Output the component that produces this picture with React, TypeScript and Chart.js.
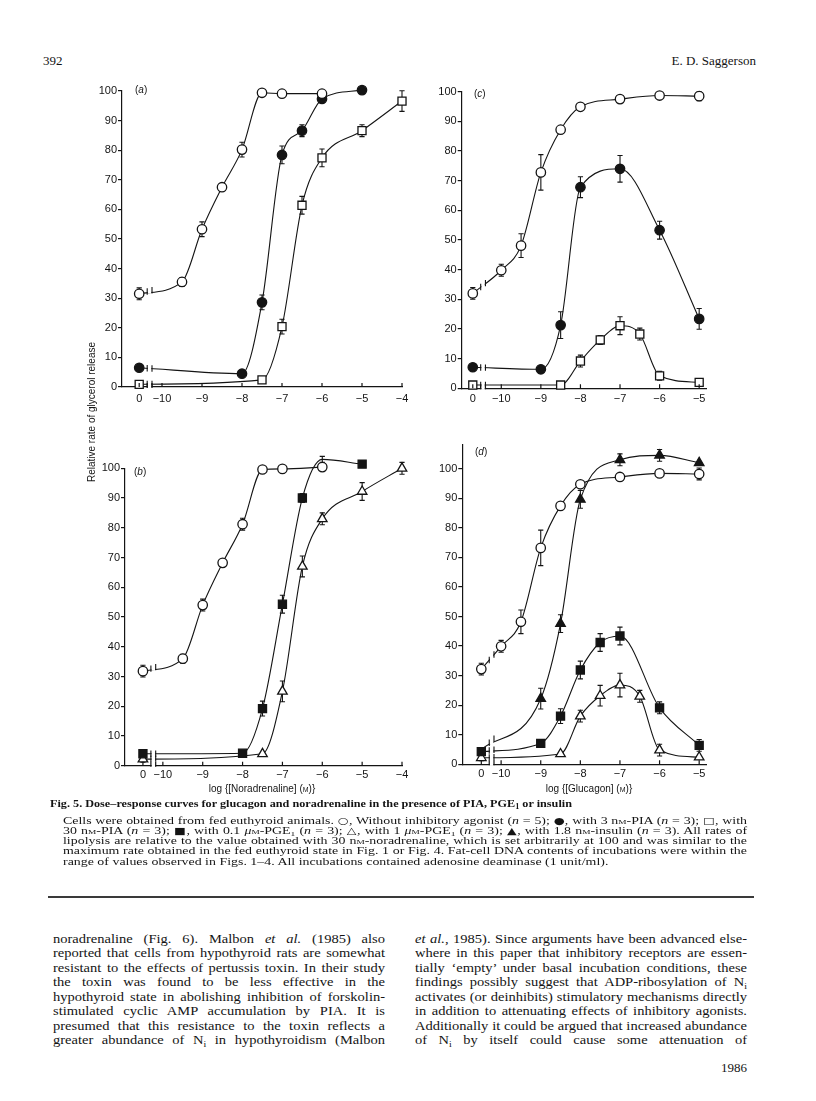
import React, { useEffect, useRef } from 'react';
import { Chart, registerables } from 'chart.js';

Chart.register(...registerables);

const INK = '#141414';
const SANS = '"Liberation Sans", Arial, Helvetica, sans-serif';
const SERIF = '"Liberation Serif", "Times New Roman", Times, serif';
const SYMF = '"DejaVu Sans", sans-serif';

// x = 0 marks the "no agonist" point, drawn at the "0" tick left of the axis break
const NONE = 0;
const Y_TICKS = [0, 10, 20, 30, 40, 50, 60, 70, 80, 90, 100];
const NOR_TICKS = [NONE, -10, -9, -8, -7, -6, -5, -4];
const GLU_TICKS = [NONE, -10, -9, -8, -7, -6, -5];

// ---- (a) noradrenaline + PIA ----
const A_OPEN_X = [0, -9.5, -9, -8.5, -8, -7.5, -7, -6];
const A_OPEN_Y = [31.5, 35.5, 53.3, 67.5, 80.2, 99.4, 99.1, 99.1];
const A_OPEN_E = [2, 1.5, 2.5, 0, 2.5, 0, 0, 0];
const A_PIA3_X = [0, -8, -7.5, -7, -6.5, -6, -5];
const A_PIA3_Y = [6.5, 4.5, 28.6, 78.4, 86.6, 97.3, 100.3];
const A_PIA3_E = [0, 0, 2.5, 3, 2, 0, 0];
const A_PIA30_X = [0, -7.5, -7, -6.5, -6, -5, -4];
const A_PIA30_Y = [0.9, 2.4, 20.4, 61.4, 77.4, 86.6, 96.6];
const A_PIA30_E = [0, 0, 2.5, 3, 3, 2, 3.5];

// ---- (b) noradrenaline + PGE1 ----
const B_OPEN_X = [0, -9.5, -9, -8.5, -8, -7.5, -7, -6];
const B_OPEN_Y = [31.8, 36.0, 54.0, 68.2, 81.2, 99.6, 99.8, 100.4];
const B_OPEN_E = [2, 1.5, 2, 0, 2, 0, 0, 0];
const B_PGE01_X = [0, -8, -7.5, -7, -6.5, -6, -5];
const B_PGE01_Y = [4.0, 4.2, 19.2, 54.3, 90.0, 103.0, 101.4];
const B_PGE01_E = [0, 0, 2.5, 3, 1.5, 1, 1];
const B_PGE1_X = [0, -7.5, -7, -6.5, -6, -5, -4];
const B_PGE1_Y = [2.2, 4.0, 25.0, 67.0, 83.0, 92.2, 100.0];
const B_PGE1_E = [1, 0, 3.5, 3.5, 2, 3, 2];

// ---- (c) glucagon + PIA ----
const C_OPEN_X = [0, -10, -9.5, -9, -8.5, -8, -7, -6, -5];
const C_OPEN_Y = [32.0, 39.8, 48.1, 72.8, 87.2, 94.9, 97.5, 98.7, 98.5];
const C_OPEN_E = [2, 2, 4, 6, 0, 0, 0, 0, 1.5];
const C_PIA3_X = [0, -9, -8.5, -8, -7, -6, -5];
const C_PIA3_Y = [7.1, 6.4, 21.3, 67.8, 74.0, 53.3, 23.4];
const C_PIA3_E = [0, 0, 4.5, 3.5, 4.5, 3, 3.5];
const C_PIA30_X = [0, -8.5, -8, -7.5, -7, -6.5, -6, -5];
const C_PIA30_Y = [1.1, 1.1, 9.2, 16.3, 21.1, 18.3, 4.2, 2.0];
const C_PIA30_E = [0, 0, 2, 1.5, 3, 2, 1.5, 0];

// ---- (d) glucagon + PGE1 / insulin ----
const D_OPEN_X = [0, -10, -9.5, -9, -8.5, -8, -7, -6, -5];
const D_OPEN_Y = [32.2, 39.9, 48.2, 73.2, 87.4, 94.7, 97.2, 98.4, 98.2];
const D_OPEN_E = [2, 2, 4, 6, 0, 0, 0, 0, 2];
const D_INS_X = [0, -9, -8.5, -8, -7, -6, -5];
const D_INS_Y = [5.0, 22.2, 47.6, 89.6, 103.0, 104.5, 102.0];
const D_INS_E = [0, 3.5, 3, 3, 2, 2, 0];
const D_PGE01_X = [0, -9, -8.5, -8, -7.5, -7, -6, -5];
const D_PGE01_Y = [4.3, 7.1, 16.3, 31.9, 41.2, 43.4, 19.1, 6.4];
const D_PGE01_E = [0, 0, 2.5, 3, 3, 3, 2, 2];
const D_PGE1_X = [0, -8.5, -8, -7.5, -7, -6.5, -6, -5];
const D_PGE1_Y = [2.2, 3.5, 16.3, 23.2, 26.8, 23.0, 4.8, 2.4];
const D_PGE1_E = [1, 0, 2, 3.5, 4, 2, 2, 0];

const SERIES_A = [
  { xs: A_OPEN_X, ys: A_OPEN_Y, es: A_OPEN_E, mark: 'oc' },
  { xs: A_PIA3_X, ys: A_PIA3_Y, es: A_PIA3_E, mark: 'fc' },
  { xs: A_PIA30_X, ys: A_PIA30_Y, es: A_PIA30_E, mark: 'os' },
];
const SERIES_B = [
  { xs: B_OPEN_X, ys: B_OPEN_Y, es: B_OPEN_E, mark: 'oc' },
  { xs: B_PGE01_X, ys: B_PGE01_Y, es: B_PGE01_E, mark: 'fs' },
  { xs: B_PGE1_X, ys: B_PGE1_Y, es: B_PGE1_E, mark: 'ot' },
];
const SERIES_C = [
  { xs: C_OPEN_X, ys: C_OPEN_Y, es: C_OPEN_E, mark: 'oc' },
  { xs: C_PIA3_X, ys: C_PIA3_Y, es: C_PIA3_E, mark: 'fc' },
  { xs: C_PIA30_X, ys: C_PIA30_Y, es: C_PIA30_E, mark: 'os' },
];
const SERIES_D = [
  { xs: D_OPEN_X, ys: D_OPEN_Y, es: D_OPEN_E, mark: 'oc' },
  { xs: D_PGE01_X, ys: D_PGE01_Y, es: D_PGE01_E, mark: 'fs' },
  { xs: D_PGE1_X, ys: D_PGE1_Y, es: D_PGE1_E, mark: 'ot' },
  { xs: D_INS_X, ys: D_INS_Y, es: D_INS_E, mark: 'ft', hideFirst: true },
];

const MARKS: any = {
  oc: { style: 'circle', r: 4.7, fill: '#ffffff' },
  fc: { style: 'circle', r: 4.7, fill: INK },
  os: { style: 'rect', r: 5.7, fill: '#ffffff' },
  fs: { style: 'rect', r: 5.7, fill: INK },
  ot: { style: 'triangle', r: 5.5, fill: '#ffffff' },
  ft: { style: 'triangle', r: 5.5, fill: INK },
};

const LAYOUT_A = { box: { left: 60, top: 70, w: 360, h: 340 }, area: { left: 122, top: 91, right: 402, bottom: 387 }, xMin: -11, xMax: -4, yMax: 100, zero: -10.57, xPad: 5, tag: 'a', tagPos: { left: 135, top: 84 } };
const LAYOUT_B = { box: { left: 60, top: 445, w: 360, h: 345 }, area: { left: 125, top: 468.3, right: 402, bottom: 765.7 }, xMin: -10.95, xMax: -4, yMax: 100, zero: -10.5, xPad: 3, tag: 'b', tagPos: { left: 134, top: 466 } };
const LAYOUT_C = { box: { left: 400, top: 70, w: 330, h: 340 }, area: { left: 461.7, top: 91.7, right: 706.7, bottom: 388.3 }, xMin: -11, xMax: -4.81, yMax: 100, zero: -10.72, xPad: 4, tag: 'c', tagPos: { left: 474, top: 88 } };
const LAYOUT_D = { box: { left: 400, top: 430, w: 330, h: 360 }, area: { left: 462.3, top: 445, right: 706.7, bottom: 764.3 }, xMin: -10.98, xMax: -4.81, yMax: 108, zero: -10.5, xPad: 3, tag: 'd', tagPos: { left: 475, top: 446 } };

const tickLabel = (v: number) => (v === NONE ? '0' : '\u2212' + Math.abs(v));

function makeExtras(zero: number) {
  return {
    id: 'extras',
    beforeDatasetsDraw(chart: any) {
      const ctx = chart.ctx;
      const ys = chart.scales.y;
      ctx.save();
      ctx.strokeStyle = INK;
      ctx.lineWidth = 1.1;
      chart.data.datasets.forEach((ds: any, di: number) => {
        const meta = chart.getDatasetMeta(di);
        ds.errs.forEach((e: number, i: number) => {
          if (!e) return;
          const el = meta.data[i];
          const v = ds.data[i].y;
          const top = ys.getPixelForValue(v + e);
          const bot = ys.getPixelForValue(v - e);
          ctx.beginPath();
          ctx.moveTo(el.x, top); ctx.lineTo(el.x, bot);
          ctx.moveTo(el.x - 2.6, top); ctx.lineTo(el.x + 2.6, top);
          ctx.moveTo(el.x - 2.6, bot); ctx.lineTo(el.x + 2.6, bot);
          ctx.stroke();
        });
      });
      ctx.restore();
    },
    afterDatasetsDraw(chart: any) {
      const ctx = chart.ctx;
      const xs = chart.scales.x;
      const b1 = xs.getPixelForValue(zero + 0.2);
      const b2 = xs.getPixelForValue(zero + 0.32);
      chart.data.datasets.forEach((ds: any, di: number) => {
        if (ds.data.length < 2 || ds.data[0].x !== zero) return;
        const meta = chart.getDatasetMeta(di);
        const p0 = meta.data[0];
        const p1 = meta.data[1];
        const yAt = (px: number) => p0.y + ((p1.y - p0.y) * (px - p0.x)) / (p1.x - p0.x);
        const y1 = yAt(b1);
        const y2 = yAt(b2);
        ctx.save();
        ctx.fillStyle = '#ffffff';
        ctx.fillRect(b1 + 0.7, Math.min(y1, y2) - 1.8, b2 - b1 - 1.4, Math.abs(y2 - y1) + 3.6);
        ctx.strokeStyle = INK;
        ctx.lineWidth = 1.1;
        ctx.beginPath();
        ctx.moveTo(b1, y1 - 3.2); ctx.lineTo(b1, y1 + 3.2);
        ctx.moveTo(b2, y2 - 3.2); ctx.lineTo(b2, y2 + 3.2);
        ctx.stroke();
        ctx.restore();
      });
    },
    afterDraw(chart: any) {
      const ctx = chart.ctx;
      const xs = chart.scales.x;
      const bottom = chart.chartArea.bottom;
      ctx.save();
      ctx.strokeStyle = INK;
      ctx.lineWidth = 1.2;
      ctx.beginPath();
      xs.ticks.forEach((t: any) => {
        const px = xs.getPixelForValue(t.value);
        ctx.moveTo(px, bottom); ctx.lineTo(px, bottom - 4);
      });
      ctx.stroke();
      const b1 = xs.getPixelForValue(zero + 0.2);
      const b2 = xs.getPixelForValue(zero + 0.32);
      ctx.fillStyle = '#ffffff';
      ctx.fillRect(b1 + 0.7, bottom - 1.5, b2 - b1 - 1.4, 3);
      ctx.beginPath();
      ctx.moveTo(b1, bottom - 4); ctx.lineTo(b1, bottom + 1);
      ctx.moveTo(b2, bottom - 4); ctx.lineTo(b2, bottom + 1);
      ctx.stroke();
      ctx.restore();
    },
  };
}

function Panel({ lay, series, ticks }: any) {
  const ref = useRef<HTMLCanvasElement>(null);
  useEffect(() => {
    const { box, area } = lay;
    const padTop = area.top - box.top;
    const yW = area.left - box.left;
    const padRight = box.left + box.w - area.right;
    const xH = box.top + box.h - area.bottom;
    const tickVals = ticks.map((v: number) => (v === NONE ? lay.zero : v));
    const tickTexts = ticks.map(tickLabel);
    const datasets = series.map((s: any) => {
      const m = MARKS[s.mark];
      return {
        data: s.xs.map((x: number, i: number) => ({ x: x === NONE ? lay.zero : x, y: s.ys[i] })),
        errs: s.es,
        borderColor: INK,
        borderWidth: 1.1,
        backgroundColor: m.fill,
        pointBackgroundColor: m.fill,
        pointBorderColor: INK,
        pointBorderWidth: 1.3,
        pointStyle: m.style,
        pointRadius: s.hideFirst ? s.xs.map((_: number, i: number) => (i === 0 ? 0 : m.r)) : m.r,
        cubicInterpolationMode: 'monotone',
        fill: false,
        clip: false,
      };
    });
    const chart = new Chart(ref.current as HTMLCanvasElement, {
      type: 'line',
      data: { datasets },
      plugins: [makeExtras(lay.zero) as any],
      options: {
        responsive: false,
        animation: false,
        events: [],
        layout: { padding: { left: 0, top: padTop, right: padRight, bottom: 0 } },
        plugins: { legend: { display: false }, tooltip: { enabled: false } },
        scales: {
          x: {
            type: 'linear',
            min: lay.xMin,
            max: lay.xMax,
            afterBuildTicks: (s: any) => { s.ticks = tickVals.map((v: number) => ({ value: v })); },
            afterFit: (s: any) => { s.height = xH; s.paddingLeft = 0; s.paddingRight = 0; },
            ticks: {
              autoSkip: false,
              maxRotation: 0,
              padding: lay.xPad,
              color: INK,
              font: { family: SANS, size: 11 },
              callback: (_v: any, i: number) => tickTexts[i],
            },
            grid: { display: true, drawOnChartArea: false, drawTicks: false },
            border: { display: true, color: INK, width: 1.2 },
          },
          y: {
            type: 'linear',
            min: 0,
            max: lay.yMax,
            afterBuildTicks: (s: any) => { s.ticks = Y_TICKS.map((v) => ({ value: v })); },
            afterFit: (s: any) => { s.width = yW; s.paddingTop = 0; s.paddingBottom = 0; },
            ticks: { padding: 1, color: INK, font: { family: SANS, size: 11 }, callback: (v: any) => String(v) },
            grid: { display: true, drawOnChartArea: false, drawTicks: true, tickLength: 4, color: INK, lineWidth: 1.2 },
            border: { display: true, color: INK, width: 1.2 },
          },
        },
      } as any,
    });
    return () => chart.destroy();
  }, []);
  const { box } = lay;
  return (
    <>
      <canvas
        ref={ref}
        width={box.w}
        height={box.h}
        style={{ position: 'absolute', left: box.left, top: box.top, width: box.w, height: box.h }}
      />
      <div style={{ position: 'absolute', left: lay.tagPos.left, top: lay.tagPos.top, font: `10px ${SANS}`, color: INK }}>
        (<i>{lay.tag}</i>)
      </div>
    </>
  );
}

// ---------------- text ----------------
const CAPTION_TITLE = ['Fig. 5. Dose\u2013response curves for glucagon and noradrenaline in the presence of PIA, PGE{sub:1} or insulin'];
const CAPTION = [
  'Cells were obtained from fed euthyroid animals. {sym:\u25CB}, Without inhibitory agonist ({i:n} = 5); {sym:\u25CF}, with 3 n{sc:m}-PIA ({i:n} = 3); {sym:\u25A1}, with',
  '30 n{sc:m}-PIA ({i:n} = 3); {sym:\u25A0}, with 0.1 {i:\u03BC}{sc:m}-PGE{sub:1} ({i:n} = 3); {sym:\u25B3}, with 1 {i:\u03BC}{sc:m}-PGE{sub:1} ({i:n} = 3); {sym:\u25B2}, with 1.8 n{sc:m}-insulin ({i:n} = 3). All rates of',
  'lipolysis are relative to the value obtained with 30 n{sc:m}-noradrenaline, which is set arbitrarily at 100 and was similar to the',
  'maximum rate obtained in the fed euthyroid state in Fig. 1 or Fig. 4. Fat-cell DNA contents of incubations were within the',
  'range of values observed in Figs. 1\u20134. All incubations contained adenosine deaminase (1 unit/ml).',
];
const BODY_LEFT = [
  'noradrenaline (Fig. 6). Malbon {i:et al.} (1985) also',
  'reported that cells from hypothyroid rats are somewhat',
  'resistant to the effects of pertussis toxin. In their study',
  'the toxin was found to be less effective in the',
  'hypothyroid state in abolishing inhibition of forskolin-',
  'stimulated cyclic AMP accumulation by PIA. It is',
  'presumed that this resistance to the toxin reflects a',
  'greater abundance of N{sub:i} in hypothyroidism (Malbon',
];
const BODY_RIGHT = [
  '{i:et al.}, 1985). Since arguments have been advanced else-',
  'where in this paper that inhibitory receptors are essen-',
  'tially \u2018empty\u2019 under basal incubation conditions, these',
  'findings possibly suggest that ADP-ribosylation of N{sub:i}',
  'activates (or deinhibits) stimulatory mechanisms directly',
  'in addition to attenuating effects of inhibitory agonists.',
  'Additionally it could be argued that increased abundance',
  'of N{sub:i} by itself could cause some attenuation of',
];

type Seg = { t: string; k: string };
function parse(s: string): Seg[] {
  const out: Seg[] = [];
  const re = /\{(i|sc|sub|sym):([^}]*)\}/g;
  let last = 0;
  let m: any;
  while ((m = re.exec(s))) {
    if (m.index > last) out.push({ t: s.slice(last, m.index), k: '' });
    out.push({ t: m[2], k: m[1] });
    last = re.lastIndex;
  }
  if (last < s.length) out.push({ t: s.slice(last), k: '' });
  return out;
}
let mctx: CanvasRenderingContext2D | null = null;
function textWidth(s: string, font: string) {
  if (!mctx) mctx = document.createElement('canvas').getContext('2d');
  mctx!.font = font;
  return mctx!.measureText(s).width;
}
function segsWidth(segs: Seg[], size: number, weight: string) {
  return segs.reduce((acc, g) => {
    let font = `${weight} ${size}px ${SERIF}`;
    let t = g.t;
    if (g.k === 'sym') font = `${size * 0.9}px ${SYMF}`;
    else if (g.k === 'sub') font = `${weight} ${size * 0.68}px ${SERIF}`;
    else if (g.k === 'sc') { font = `${weight} ${size * 0.78}px ${SERIF}`; t = t.toUpperCase(); }
    else if (g.k === 'i') font = `italic ${weight} ${size}px ${SERIF}`;
    return acc + textWidth(t, font);
  }, 0);
}
function fitScale(lines: string[], size: number, weight: string, width: number) {
  let s = Infinity;
  lines.forEach((l) => {
    s = Math.min(s, width / segsWidth(parse(l), size, weight));
  });
  return s * 0.995;
}
function renderSegs(segs: Seg[]) {
  return segs.map((g, i) => {
    if (g.k === 'i') return <i key={i}>{g.t}</i>;
    if (g.k === 'sc') return <span key={i} style={{ fontVariant: 'small-caps' }}>{g.t}</span>;
    if (g.k === 'sym') return <span key={i} style={{ fontFamily: SYMF, fontSize: '0.9em' }}>{g.t}</span>;
    if (g.k === 'sub') return <sub key={i} style={{ fontSize: '0.68em', verticalAlign: '-0.3em', lineHeight: 0 }}>{g.t}</sub>;
    return <React.Fragment key={i}>{g.t}</React.Fragment>;
  });
}
function Lines({ lines, left, top, width, lineH, size, weight, scale, justify, justifyLast }: any) {
  return (
    <>
      {lines.map((l: string, i: number) => {
        const just = justify && (justifyLast || i < lines.length - 1);
        return (
          <div
            key={i}
            style={{
              position: 'absolute',
              left,
              top: top + i * lineH,
              width: width / scale,
              height: lineH,
              lineHeight: lineH + 'px',
              fontFamily: SERIF,
              fontSize: size,
              fontWeight: weight,
              color: INK,
              whiteSpace: 'nowrap',
              textAlign: 'left',
              textAlignLast: just ? 'justify' : 'left',
              transform: `scaleX(${scale})`,
              transformOrigin: 'left top',
            }}
          >
            {renderSegs(parse(l))}
          </div>
        );
      })}
    </>
  );
}

export default function App() {
  const bodyScale = fitScale([...BODY_LEFT, ...BODY_RIGHT], 13.5, 'normal', 332);
  const capScale = fitScale(CAPTION.slice(0, 4), 10.5, 'normal', 684);
  const titleScale = fitScale(CAPTION_TITLE, 11.2, 'bold', 525);
  return (
    <div style={{ position: 'absolute', left: 0, top: 0, width: 816, height: 1101, background: '#fff', overflow: 'hidden' }}>
      <div style={{ position: 'absolute', left: 43, top: 53, font: `13px ${SERIF}`, color: INK }}>392</div>
      <div style={{ position: 'absolute', right: 60, top: 53, font: `13px ${SERIF}`, color: INK }}>E. D. Saggerson</div>

      <Panel lay={LAYOUT_A} series={SERIES_A} ticks={NOR_TICKS} />
      <Panel lay={LAYOUT_B} series={SERIES_B} ticks={NOR_TICKS} />
      <Panel lay={LAYOUT_C} series={SERIES_C} ticks={GLU_TICKS} />
      <Panel lay={LAYOUT_D} series={SERIES_D} ticks={GLU_TICKS} />

      <div
        style={{
          position: 'absolute', left: 91, top: 412, transform: 'translate(-50%, -50%) rotate(-90deg)',
          whiteSpace: 'nowrap', font: `10px ${SANS}`, color: INK,
        }}
      >
        Relative rate of glycerol release
      </div>
      <div style={{ position: 'absolute', left: 262, top: 783, transform: 'translateX(-50%)', whiteSpace: 'nowrap', font: `10px ${SANS}`, color: INK }}>
        log {'{'}[Noradrenaline] (<span style={{ fontVariant: 'small-caps' }}>m</span>){'}'}
      </div>
      <div style={{ position: 'absolute', left: 589, top: 783, transform: 'translateX(-50%)', whiteSpace: 'nowrap', font: `10px ${SANS}`, color: INK }}>
        log {'{'}[Glucagon] (<span style={{ fontVariant: 'small-caps' }}>m</span>){'}'}
      </div>

      <Lines lines={CAPTION_TITLE} left={50} top={796.5} width={525} lineH={13} size={11.2} weight="bold" scale={titleScale} justify={false} />
      <Lines lines={CAPTION} left={63} top={815.5} width={684} lineH={10.3} size={10.5} weight="normal" scale={capScale} justify />

      <div style={{ position: 'absolute', left: 48, top: 896, width: 706, height: 2, background: '#3a3a3a' }} />

      <Lines lines={BODY_LEFT} left={53} top={931.7} width={332} lineH={14.5} size={13.5} weight="normal" scale={bodyScale} justify justifyLast />
      <Lines lines={BODY_RIGHT} left={415} top={931.7} width={332} lineH={14.5} size={13.5} weight="normal" scale={bodyScale} justify justifyLast />

      <div style={{ position: 'absolute', right: 69, top: 1060, font: `13px ${SERIF}`, color: INK }}>1986</div>
    </div>
  );
}
